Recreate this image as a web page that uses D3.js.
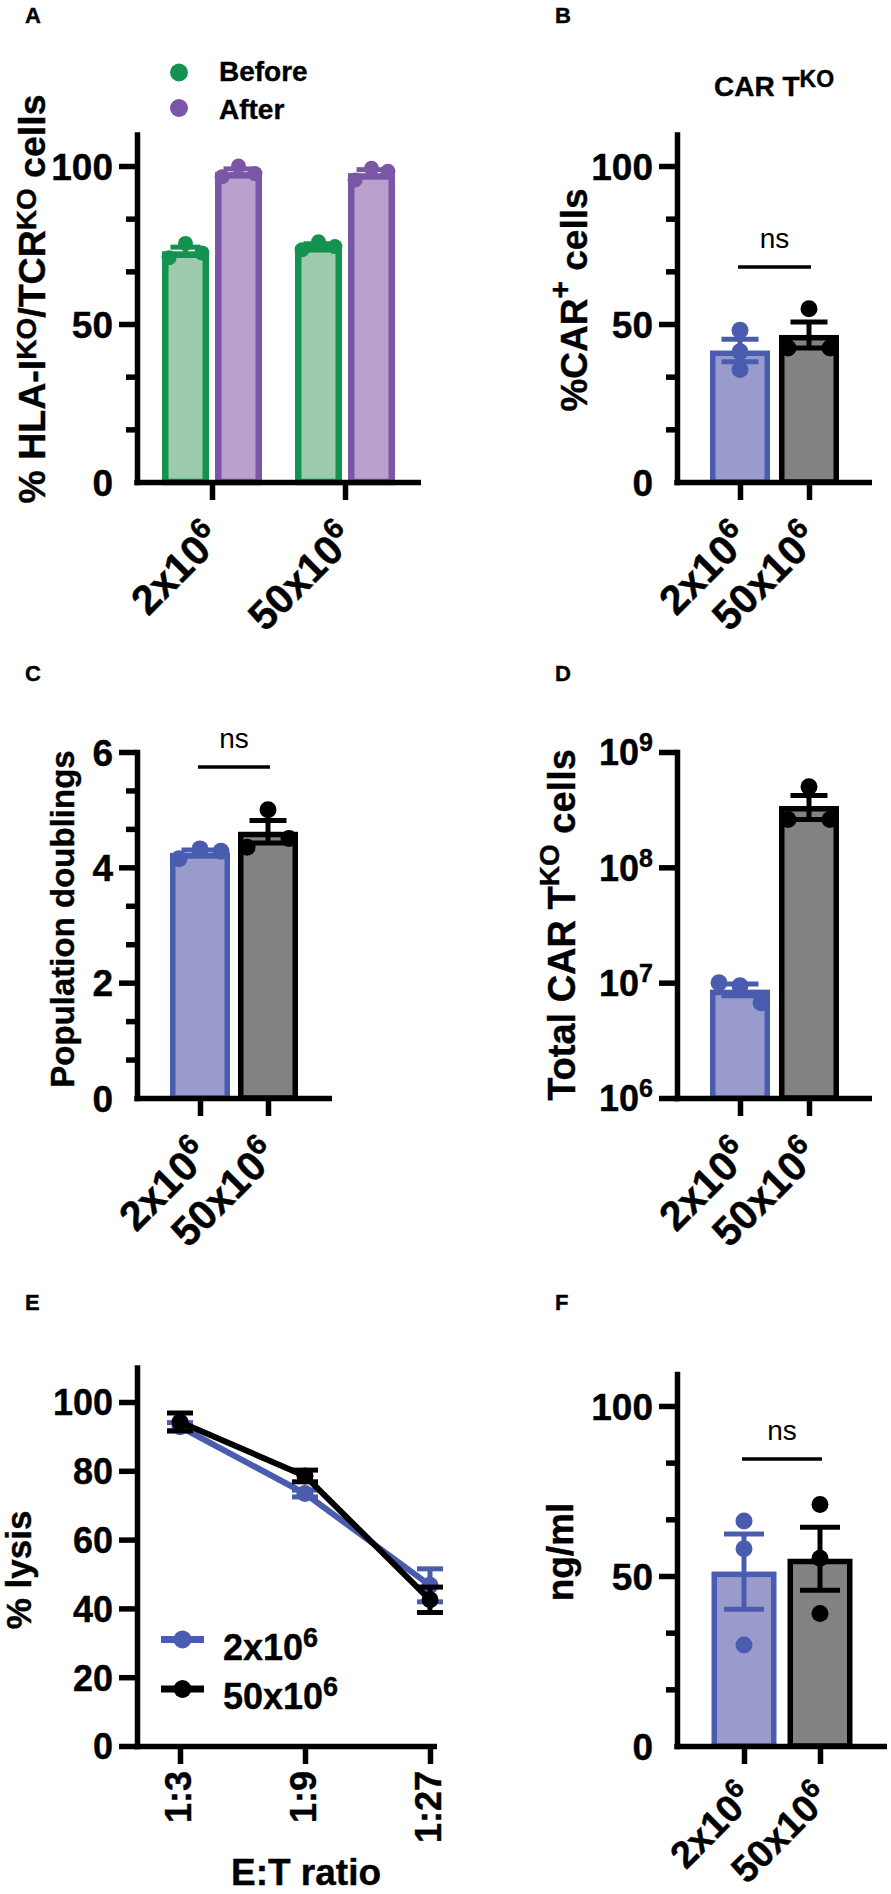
<!DOCTYPE html>
<html><head><meta charset="utf-8">
<script src="https://cdn.jsdelivr.net/npm/d3@7"></script>
<style>body{margin:0;background:#fff}svg{display:block}</style>
</head><body>
<svg id="c" width="891" height="1894"></svg>
<script>
// ---------------- DATA ----------------
const doses = ["2x10^{6}", "50x10^{6}"];
const phases = ["Before", "After"];
const hlaBefore = [[71, 75.5, 72.5], [73.5, 76, 74.5]];
const hlaAfter = [[96.6, 100, 97.6], [95.6, 99.3, 98.3]];
const carPositive = [[48, 41.2, 35.6], [54.8, 42.4, 42.4]];
const popDoublings = [[4.15, 4.32, 4.28], [5.0, 4.35, 4.5]];
const totalCells = [[1.0e7, 9.4e6, 6.7e6], [5.0e8, 2.6e8, 2.6e8]];
const etRatios = ["1:3", "1:9", "1:27"];
const lysisLowMean = [92.8, 73.4, 46.7];
const lysisLowSem = [1.2, 1.0, 4.8];
const lysisHighMean = [94.2, 78.5, 42.5];
const lysisHighSem = [2.6, 1.7, 3.7];
const ifng = [[66.2, 58, 29.7], [71, 55.2, 39]];
const ticksPct = [0, 50, 100];
const ticksDoub = [0, 2, 4, 6];
const ticksLog = [1e6, 1e7, 1e8, 1e9];
const ticksLysis = [0, 20, 40, 60, 80, 100];
const nsB = 68, nsC = 5.74, nsF = 84.4;

// ---------------- STYLE ----------------
const FONT = "'Liberation Sans', Arial, Helvetica, sans-serif";
const SW = 5.5;
const COL = {
  green: "#13934f", greenFill: "#9dcbad",
  purple: "#7a56a7", purpleFill: "#baa0cc",
  blue: "#4a5cb0", blueFill: "#989bcc",
  grayFill: "#828282", black: "#000000"
};
const svg = d3.select("#c");

function sem(v) { return d3.deviation(v) / Math.sqrt(v.length); }

function rich(t, str, supSize, raise) {
  const parts = str.split(/(\^\{[^}]*\})/).filter(s => s.length);
  let up = false;
  parts.forEach(p => {
    const m = p.match(/^\^\{([^}]*)\}$/);
    const ts = t.append("tspan");
    if (m) { ts.text(m[1]).attr("font-size", supSize).attr("dy", -raise); up = true; }
    else { ts.text(p); if (up) { ts.attr("dy", raise); up = false; } }
  });
  return t;
}
function txt(str, x, y, size, o = {}) {
  const w = o.weight || "bold";
  const t = svg.append("text")
    .attr("transform", `translate(${x},${y})` + (o.rot ? ` rotate(${o.rot})` : ""))
    .attr("font-family", FONT).attr("font-size", size)
    .attr("font-weight", w)
    .attr("text-anchor", o.anchor || "start").attr("fill", o.fill || "#000");
  if (w === "bold") t.attr("stroke", "#000").attr("stroke-width", 0.4);
  if (o.dy) t.attr("dy", o.dy);
  rich(t, str, o.sup || size * 0.75, o.raise || size * 0.3);
  return t;
}
function yAxis(y, x0, major, minor, fmt, o = {}) {
  if (minor && minor.length) {
    const gm = svg.append("g").attr("transform", `translate(${x0},0)`)
      .call(d3.axisLeft(y).tickValues(minor).tickSize(11).tickFormat(""));
    gm.select(".domain").remove();
    gm.selectAll(".tick line").attr("stroke", "#000").attr("stroke-width", SW);
  }
  const g = svg.append("g").attr("transform", `translate(${x0},0)`)
    .call(d3.axisLeft(y).tickValues(major).tickSize(18).tickSizeOuter(0).tickPadding(6).tickFormat(""));
  g.select(".domain").attr("stroke", "#000").attr("stroke-width", SW).attr("stroke-linecap", "square");
  g.selectAll(".tick line").attr("stroke", "#000").attr("stroke-width", SW)
    .filter(d => o.noZeroTick && d === y.domain()[0]).attr("x2", 0);
  g.selectAll(".tick text").each(function (d) {
    const t = d3.select(this).attr("font-family", FONT).attr("font-size", o.size || 37)
      .attr("font-weight", "bold").attr("fill", "#000").attr("stroke", "#000").attr("stroke-width", 0.4)
      .attr("dy", "0.36em");
    rich(t, fmt(d), o.sup || 25, o.raise || 14);
  });
  return g;
}
function xAxis(xp, yBase, x0, xEnd, o = {}) {
  const g = svg.append("g").attr("transform", `translate(0,${yBase})`)
    .call(d3.axisBottom(xp).tickSize(18).tickSizeOuter(0).tickFormat(""));
  g.select(".domain").remove();
  g.selectAll(".tick line").attr("stroke", "#000").attr("stroke-width", SW);
  svg.append("line").attr("x1", x0 - SW / 2).attr("x2", xEnd).attr("y1", yBase + 0.5).attr("y2", yBase + 0.5)
    .attr("stroke", "#000").attr("stroke-width", SW);
  if (o.rot45) {
    const fs = o.fs || 41, off = o.off || 59;
    xp.domain().forEach(c => txt(c, xp(c) + 12.3, yBase + off, fs, { anchor: "end", rot: -45, sup: fs * 0.71, raise: fs * 0.39 }));
  }
}
function jitter(py, r, d) {
  const n = py.length, idx = d3.range(n).sort((a, b) => py[a] - py[b]);
  const clusters = []; let cur = [idx[0]];
  for (let k = 1; k < n; k++) {
    if (py[idx[k]] - py[idx[k - 1]] < 2 * r) cur.push(idx[k]); else { clusters.push(cur); cur = [idx[k]]; }
  }
  clusters.push(cur);
  const off = new Array(n).fill(0);
  clusters.forEach(c => {
    c.sort((a, b) => a - b); const m = c.length;
    c.forEach((i, j) => off[i] = (j - (m - 1) / 2) * d * (m === 2 ? 2 : 1));
  });
  return off;
}
function errBar(cx, y1, y2, capW, col, w) {
  svg.append("line").attr("x1", cx).attr("x2", cx).attr("y1", y1).attr("y2", y2).attr("stroke", col).attr("stroke-width", w);
  [y1, y2].forEach(yy => svg.append("line").attr("x1", cx - capW / 2).attr("x2", cx + capW / 2)
    .attr("y1", yy).attr("y2", yy).attr("stroke", col).attr("stroke-width", w));
}
function bar(cx, y, vals, o) {
  const m = d3.mean(vals), s = sem(vals);
  const yv = y(m), yb = y(y.domain()[0]);
  const bsw = o.bsw || SW;
  svg.append("rect").attr("x", cx - o.w / 2 + bsw / 2).attr("y", yv + bsw / 2)
    .attr("width", o.w - bsw).attr("height", yb - yv - bsw / 2)
    .attr("fill", o.fill).attr("stroke", o.col).attr("stroke-width", bsw);
  const off = jitter(vals.map(y), o.r, o.w * 0.35);
  vals.forEach((v, i) => svg.append("circle").attr("cx", cx + off[i]).attr("cy", y(v)).attr("r", o.r).attr("fill", o.col));
  errBar(cx, y(m - s), y(m + s), o.cap, o.col, 5);
}
function ns(xp, y, v) {
  const x1 = xp(xp.domain()[0]) - 2, x2 = xp(xp.domain()[1]) + 2;
  svg.append("line").attr("x1", x1).attr("x2", x2).attr("y1", y(v)).attr("y2", y(v)).attr("stroke", "#000").attr("stroke-width", 3.5);
  txt("ns", (x1 + x2) / 2, y(v) - 19, 28, { anchor: "middle", weight: "normal" });
}
const minorThirds = (step, max) => d3.range(step / 3, max, step / 3).filter(v => Math.abs(v / step - Math.round(v / step)) > 0.01);

// ---------------- PANEL A ----------------
{
  const x0 = 137, xEnd = 421;
  const y = d3.scaleLinear().domain([0, 110]).range([482, 134.4]);
  const xp = d3.scalePoint().domain(doses).range([212, 345]);
  const sub = d3.scaleBand().domain(phases).range([-53, 53]).paddingInner(0.226).paddingOuter(0.113);
  doses.forEach((dz, i) => {
    const cx = xp(dz);
    bar(cx + sub("Before") + sub.bandwidth() / 2, y, hlaBefore[i], { w: 47, bsw: 6.5, col: COL.green, fill: COL.greenFill, r: 7.5, cap: 30 });
    bar(cx + sub("After") + sub.bandwidth() / 2, y, hlaAfter[i], { w: 47, bsw: 6.5, col: COL.purple, fill: COL.purpleFill, r: 7.5, cap: 30 });
  });
  yAxis(y, x0, ticksPct, minorThirds(50, 110), d => String(d), { noZeroTick: true });
  xAxis(xp, 482, x0, xEnd, { rot45: true });
  txt("% HLA-I^{KO}/TCR^{KO} cells", 45, 299, 37.5, { anchor: "middle", rot: -90, sup: 28, raise: 9 });
  [[phases[0], COL.green, 72.5, 81.4], [phases[1], COL.purple, 108, 118.6]].forEach(([lab, c, cy, by]) => {
    svg.append("circle").attr("cx", 179).attr("cy", cy).attr("r", 9).attr("fill", c);
    txt(lab, 219, by, 28);
  });
  txt("A", 25, 23, 22);
}

// ---------------- PANEL B ----------------
{
  const x0 = 677, xEnd = 872;
  const y = d3.scaleLinear().domain([0, 110]).range([482, 134.4]);
  const xp = d3.scalePoint().domain(doses).range([740, 809]);
  bar(xp(doses[0]), y, carPositive[0], { w: 60, col: COL.blue, fill: COL.blueFill, r: 8.5, cap: 37 });
  bar(xp(doses[1]), y, carPositive[1], { w: 60, col: COL.black, fill: COL.grayFill, r: 8.5, cap: 37 });
  ns(xp, y, nsB);
  yAxis(y, x0, ticksPct, minorThirds(50, 110), d => String(d), { noZeroTick: true });
  xAxis(xp, 482, x0, xEnd, { rot45: true });
  txt("%CAR^{+} cells", 587, 300, 37, { anchor: "middle", rot: -90, sup: 30, raise: 17 });
  txt("CAR T^{KO}", 774, 96, 28, { anchor: "middle", sup: 23, raise: 9.5 });
  txt("B", 555, 23, 22);
}

// ---------------- PANEL C ----------------
{
  const x0 = 137, xEnd = 332;
  const y = d3.scaleLinear().domain([0, 6]).range([1098, 752]);
  const xp = d3.scalePoint().domain(doses).range([200, 268]);
  bar(xp(doses[0]), y, popDoublings[0], { w: 60, col: COL.blue, fill: COL.blueFill, r: 8.5, cap: 37 });
  bar(xp(doses[1]), y, popDoublings[1], { w: 60, col: COL.black, fill: COL.grayFill, r: 8.5, cap: 37 });
  ns(xp, y, nsC);
  yAxis(y, x0, ticksDoub, minorThirds(2, 6), d => String(d), { noZeroTick: true });
  xAxis(xp, 1098, x0, xEnd, { rot45: true });
  txt("Population doublings", 74, 919, 33, { anchor: "middle", rot: -90 });
  txt("C", 25, 681, 22);
}

// ---------------- PANEL D ----------------
{
  const x0 = 677, xEnd = 872;
  const y = d3.scaleLog().domain([1e6, 1e9]).range([1098, 752]);
  const xp = d3.scalePoint().domain(doses).range([740, 809]);
  bar(xp(doses[0]), y, totalCells[0], { w: 60, col: COL.blue, fill: COL.blueFill, r: 8.5, cap: 37 });
  bar(xp(doses[1]), y, totalCells[1], { w: 60, col: COL.black, fill: COL.grayFill, r: 8.5, cap: 37 });
  yAxis(y, x0, ticksLog, [], d => "10^{" + Math.round(Math.log10(d)) + "}", { size: 36, sup: 25, raise: 14 });
  xAxis(xp, 1098, x0, xEnd, { rot45: true });
  txt("Total CAR T^{KO} cells", 575, 925, 38, { anchor: "middle", rot: -90, sup: 28, raise: 16 });
  txt("D", 555, 681, 22);
}

// ---------------- PANEL E ----------------
{
  const x0 = 137, xEnd = 437;
  const y = d3.scaleLinear().domain([0, 110]).range([1746, 1367.6]);
  const xp = d3.scalePoint().domain(etRatios).range([180, 430]);
  const line = d3.line().x((d, i) => xp(etRatios[i])).y(d => y(d));
  [[lysisLowMean, lysisLowSem, COL.blue], [lysisHighMean, lysisHighSem, COL.black]].forEach(([m, s, c]) => {
    svg.append("path").attr("d", line(m)).attr("fill", "none").attr("stroke", c).attr("stroke-width", 6).attr("stroke-linejoin", "round");
    m.forEach((v, i) => {
      errBar(xp(etRatios[i]), y(v - s[i]), y(v + s[i]), 26, c, 5);
      svg.append("circle").attr("cx", xp(etRatios[i])).attr("cy", y(v)).attr("r", 8.5).attr("fill", c);
    });
  });
  yAxis(y, x0, ticksLysis, [], d => String(d), { size: 36 });
  xAxis(xp, 1746, x0, xEnd);
  etRatios.forEach(r => txt(r, xp(r) - 2, 1771, 36, { anchor: "end", rot: -90, dy: "0.35em" }));
  txt("E:T ratio", 306, 1885, 37, { anchor: "middle" });
  txt("% lysis", 31, 1570, 35, { anchor: "middle", rot: -90 });
  [[doses[0], COL.blue, 1639.4, 1660], [doses[1], COL.black, 1689, 1708.7]].forEach(([lab, c, ly, by]) => {
    svg.append("line").attr("x1", 161).attr("x2", 204).attr("y1", ly).attr("y2", ly).attr("stroke", c).attr("stroke-width", 7);
    svg.append("circle").attr("cx", 182.5).attr("cy", ly).attr("r", 9).attr("fill", c);
    txt(lab, 223, by, 36, { sup: 27, raise: 13 });
  });
  txt("E", 25, 1310, 22);
}

// ---------------- PANEL F ----------------
{
  const x0 = 677, xEnd = 887;
  const y = d3.scaleLinear().domain([0, 109.4]).range([1746, 1374]);
  const xp = d3.scalePoint().domain(doses).range([744, 820]);
  bar(xp(doses[0]), y, ifng[0], { w: 65, col: COL.blue, fill: COL.blueFill, r: 8.5, cap: 40 });
  bar(xp(doses[1]), y, ifng[1], { w: 65, col: COL.black, fill: COL.grayFill, r: 8.5, cap: 40 });
  ns(xp, y, nsF);
  yAxis(y, x0, ticksPct, minorThirds(50, 109.4), d => String(d), { noZeroTick: true });
  xAxis(xp, 1746, x0, xEnd, { rot45: true, fs: 38, off: 54 });
  txt("ng/ml", 573, 1552, 37, { anchor: "middle", rot: -90 });
  txt("F", 555, 1310, 22);
}
</script>
</body></html>
